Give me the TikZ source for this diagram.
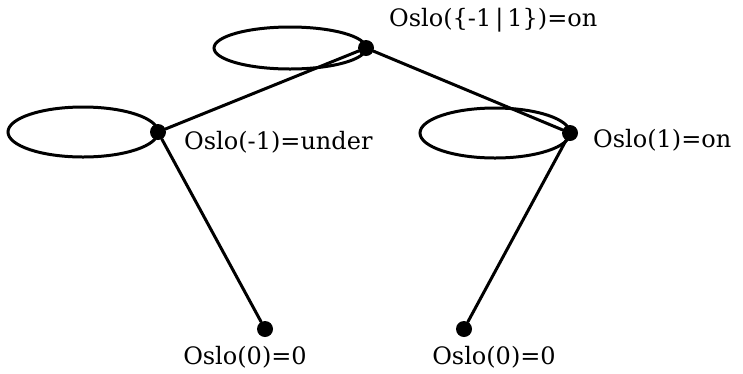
\documentclass[tikz,border=0pt]{standalone}
\usepackage{fontspec}
\setmainfont{DejaVu Serif}
\usepackage{tikz}
\usetikzlibrary{positioning}

\begin{document}
\begin{tikzpicture}[
  x=1pt, y=1pt,
  lbl/.style={font=\fontsize{24}{28}\selectfont, inner sep=1pt},
  dotv/.style={circle, fill=black, inner sep=0pt, minimum size=16pt},
  treeedge/.style={draw=black, line width=3pt, line cap=round},
  loopedge/.style={draw=black, line width=3pt}
]
\useasboundingbox (0,0) rectangle (743,-373);

\node[dotv] (top) at (366, -48) {};
\node[dotv] (lft) at (158, -132) {};
\node[dotv] (rgt) at (570, -133) {};
\node[dotv] (lbot) at (265, -329) {};
\node[dotv] (rbot) at (464, -329) {};
% self loops
\draw[loopedge] (top.center) arc[start angle=0, end angle=360, x radius=76, y radius=21];
\draw[loopedge] (lft.center) arc[start angle=0, end angle=360, x radius=75, y radius=25];
\draw[loopedge] (rgt.center) arc[start angle=0, end angle=360, x radius=75, y radius=25];
% tree
\draw[treeedge] (top) -- (lft);
\draw[treeedge] (top) -- (rgt);
\draw[treeedge] (lft) -- (lbot);
\draw[treeedge] (rgt) -- (rbot);
\node[lbl, anchor=west] (ltop) at (388, -20) {Oslo(\{-1\,|\,1\})=on};
\node[lbl, anchor=west] (llft) at (183, -142) {Oslo(-1)=under};
\node[lbl, anchor=west] (lrgt) at (592, -140) {Oslo(1)=on};
\node[lbl] (llbot) at (245, -357) {Oslo(0)=0};
\node[lbl] (lrbot) at (494, -357) {Oslo(0)=0};

\end{tikzpicture}
\end{document}
